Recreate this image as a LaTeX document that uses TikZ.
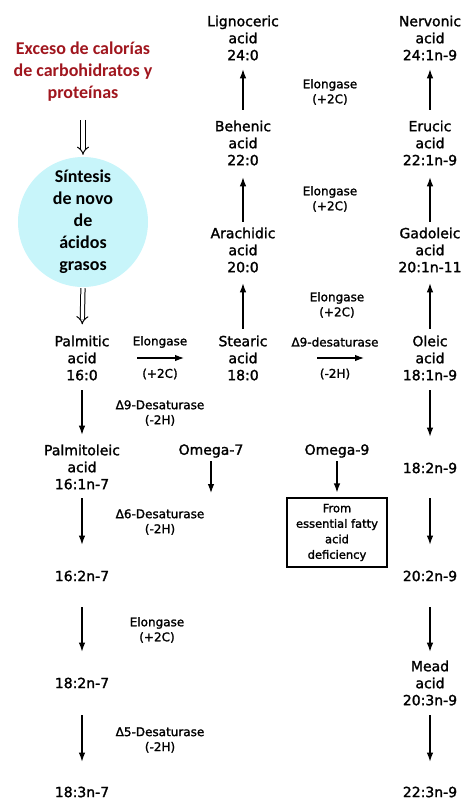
\documentclass[tikz,border=0pt]{standalone}
\usepackage{fontspec}
\setmainfont{DejaVu Sans}
\newfontfamily\acidfont{DejaVu Sans}[BoldFont={DejaVu Sans},BoldFeatures={FakeBold=1.6}]
\newfontfamily\titlefont{Carlito}
\usetikzlibrary{arrows.meta}
\definecolor{titlered}{RGB}{160,22,30}
\definecolor{circfill}{RGB}{200,245,250}
\begin{document}
\begin{tikzpicture}[x=1pt,y=-1pt,
  acid/.style={align=center, inner sep=0pt, font=\acidfont\bfseries\fontsize{14}{17}\selectfont},
  lab/.style={align=center, inner sep=0pt, font=\acidfont\bfseries\fontsize{12}{15}\selectfont},
  arr/.style={-{Latex[length=9pt,width=6.5pt]}, line width=1.1pt},
  dbl/.style={double, double distance=3.2pt, line width=1pt, -{Implies[scale=1.3]}},
]
\useasboundingbox (0,0) rectangle (461,801);
% title and circle
\node[align=center, inner sep=0pt, text=titlered,
  font=\titlefont\bfseries\fontsize{18}{22}\selectfont] (title) at (83,72)
  {Exceso de calorías\\de carbohidratos y\\proteínas};
\node[circle, fill=circfill, minimum size=130pt, inner sep=0pt, align=center,
  font=\titlefont\bfseries\fontsize{18}{22}\selectfont] (circ) at (83,222)
  {Síntesis\\de novo\\de\\ácidos\\grasos};
% acids
\node[acid] (lig) at (243,38) {Lignoceric\\acid\\24:0};
\node[acid] (nerv) at (430,38) {Nervonic\\acid\\24:1n-9};
\node[acid] (beh) at (243,143) {Behenic\\acid\\22:0};
\node[acid] (eru) at (430,143) {Erucic\\acid\\22:1n-9};
\node[acid] (ara) at (243,250) {Arachidic\\acid\\20:0};
\node[acid] (gad) at (430,250) {Gadoleic\\acid\\20:1n-11};
\node[acid] (pal) at (82,358) {Palmitic\\acid\\16:0};
\node[acid] (ste) at (243,358) {Stearic\\acid\\18:0};
\node[acid] (ole) at (430,358) {Oleic\\acid\\18:1n-9};
\node[acid] (palo) at (82,467) {Palmitoleic\\acid\\16:1n-7};
\node[acid] (om7) at (211,451) {Omega-7};
\node[acid] (om9) at (337,451) {Omega-9};
\node[acid] (n182) at (430,468) {18:2n-9};
\node[acid] (n162) at (82,576) {16:2n-7};
\node[acid] (n202) at (430,576) {20:2n-9};
\node[acid] (n182b) at (82,683) {18:2n-7};
\node[acid] (mead) at (430,683) {Mead\\acid\\20:3n-9};
\node[acid] (n183) at (82,792) {18:3n-7};
\node[acid] (n223) at (430,792) {22:3n-9};
% box
\node[draw, line width=1.1pt, minimum width=100pt, minimum height=69pt, inner sep=0pt,
  align=center, font=\acidfont\bfseries\fontsize{11.5}{15.5}\selectfont] (box) at (337,532.5)
  {From\\essential fatty\\acid\\deficiency};
% enzyme labels
\node[lab] (el1) at (330,92) {Elongase\\(+2C)};
\node[lab] (el2) at (330,199) {Elongase\\(+2C)};
\node[lab] (el3) at (337,305) {Elongase\\(+2C)};
\node[lab] (elA) at (160,342) {Elongase};
\node[lab] (elB) at (160,374) {(+2C)};
\node[lab] (dsA) at (335,342) {Δ9-desaturase};
\node[lab] (dsB) at (335,374) {(-2H)};
\node[lab] (d9) at (160,413) {Δ9-Desaturase\\(-2H)};
\node[lab] (d6) at (160,522) {Δ6-Desaturase\\(-2H)};
\node[lab] (el4) at (157,630) {Elongase\\(+2C)};
\node[lab] (d5) at (160,740) {Δ5-Desaturase\\(-2H)};
% coordinates for free ends
\coordinate (h1s) at (137,358);
\coordinate (h1e) at (184,358);
\coordinate (h2s) at (317,358);
\coordinate (h2e) at (364,358);
\coordinate (o7e) at (211,493);
% connectors
\draw[dbl, shorten <=18pt, shorten >=2pt] (title.south) -- (circ.north);
\draw[dbl, shorten <=1pt, shorten >=11pt] (circ.south) -- (pal.north);
\draw[arr, shorten <=10.7pt, shorten >=8.7pt] (beh.north) -- (lig.south);
\draw[arr, shorten <=10.7pt, shorten >=8.7pt] (eru.north) -- (nerv.south);
\draw[arr, shorten <=5.7pt, shorten >=11.7pt] (ara.north) -- (beh.south);
\draw[arr, shorten <=5.7pt, shorten >=11.7pt] (gad.north) -- (eru.south);
\draw[arr, shorten <=6.7pt, shorten >=10.7pt] (ste.north) -- (ara.south);
\draw[arr, shorten <=6.7pt, shorten >=10.7pt] (ole.north) -- (gad.south);
\draw[arr] (h1s) -- (h1e);
\draw[arr] (h2s) -- (h2e);
\draw[arr, shorten <=9.7pt, shorten >=9.7pt] (pal.south) -- (palo.north);
\draw[arr, shorten <=9.7pt, shorten >=25.9pt] (ole.south) -- (n182.north);
\draw[arr, shorten <=3.5pt] (om7.south) -- (o7e);
\draw[arr, shorten <=3.5pt, shorten >=5pt] (om9.south) -- (box.north);
\draw[arr, shorten <=8.7pt, shorten >=25.9pt] (palo.south) -- (n162.north);
\draw[arr, shorten <=24.9pt, shorten >=25.9pt] (n182.south) -- (n202.north);
\draw[arr, shorten <=25.9pt, shorten >=25.9pt] (n162.south) -- (n182b.north);
\draw[arr, shorten <=25.9pt, shorten >=8.7pt] (n202.south) -- (mead.north);
\draw[arr, shorten <=26.9pt, shorten >=24.9pt] (n182b.south) -- (n183.north);
\draw[arr, shorten <=9.7pt, shorten >=24.9pt] (mead.south) -- (n223.north);
\end{tikzpicture}
\end{document}
